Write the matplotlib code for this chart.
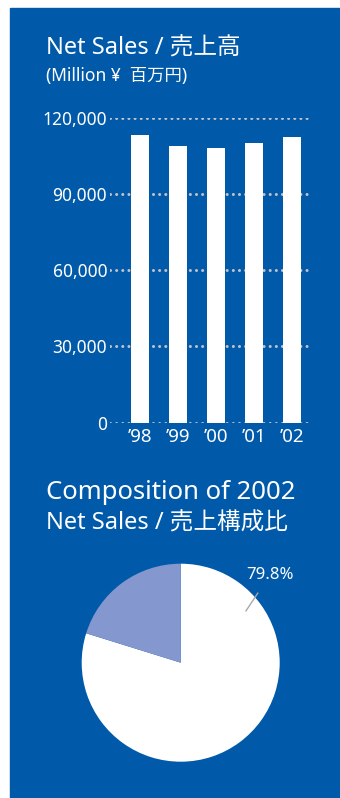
import numpy as np
import matplotlib
matplotlib.use('Agg')
import matplotlib.pyplot as plt
from matplotlib.patches import Rectangle

plt.rcParams['font.family'] = ['Noto Sans', 'Noto Sans CJK JP', 'DejaVu Sans']

# data
years = ['\u201998', '\u201999', '\u201900', '\u201901', '\u201902']
sales = [113200, 109150, 108350, 110050, 112700]
yticks = [0, 30000, 60000, 90000, 120000]
shares = [79.8, 20.2]
share_label = '79.8%'

W, H = 340, 798
blue = '#0059A9'
light = '#8497CF'
dotgray = '#C0C2C8'


def fx(x):
    return x / W


def fy(y):
    return 1 - y / H


fig = plt.figure(figsize=(W / 100, H / 100), dpi=100, facecolor='white')
fig.patches.append(Rectangle((fx(10), 0), fx(340) - fx(10), fy(8),
                             transform=fig.transFigure, color=blue, zorder=-1))

# titles
fig.text(fx(46), fy(55), 'Net Sales / 売上高', color='white', fontsize=17, va='baseline')
fig.text(fx(46), fy(81), '(Million ¥  百万円)', color='white', fontsize=12.5, va='baseline')
fig.text(fx(46), fy(499), 'Composition of 2002', color='white', fontsize=18.5, va='baseline')
fig.text(fx(46), fy(530), 'Net Sales / 売上構成比', color='white', fontsize=17, va='baseline')

# bar chart
ax = fig.add_axes([fx(110), fy(422.5), fx(311) - fx(110), fy(118) - fy(422.5)])
ax.set_facecolor('none')
x = np.arange(len(years))
ax.bar(x, sales, width=0.47, color='white', zorder=3)
ax.set_xlim(-0.79, 4.5)
ax.set_ylim(0, 120000)
ax.set_yticks(yticks)
ax.set_yticklabels(['{:,}'.format(v) for v in yticks])
ax.set_xticks(x)
ax.set_xticklabels(years)
ax.tick_params(length=0, colors='white', labelsize=12.5)
ax.tick_params(axis='x', labelsize=13.5, pad=4)
ax.tick_params(axis='y', pad=2)
for s in ax.spines.values():
    s.set_visible(False)
for v in yticks:
    ax.axhline(v, color=dotgray, lw=2.2, ls=(0, (0.01, 2.0)),
               dash_capstyle='round', zorder=1)

# pie chart
r = 99
cx, cy = 180.7, 662.7
pax = fig.add_axes([fx(cx - r), fy(cy + r), 2 * r / W, 2 * r / H])
pax.pie(shares, colors=['white', light], startangle=90, counterclock=False,
        radius=1)
pax.set_xlim(-1, 1)
pax.set_ylim(-1, 1)
pax.set_aspect('auto')
pax.axis('off')
a1, a2 = np.deg2rad(38.4), np.deg2rad(44.5)
pax.annotate(share_label, xy=(0.84 * np.cos(a1), 0.84 * np.sin(a1)),
             xytext=(1.26 * np.cos(a2), 1.26 * np.sin(a2)),
             color='white', fontsize=12, ha='center', va='center',
             arrowprops=dict(arrowstyle='-', color='#A8A8A8', lw=1,
                             shrinkA=6, shrinkB=0))

fig.savefig('out.png', dpi=100, facecolor='white')
